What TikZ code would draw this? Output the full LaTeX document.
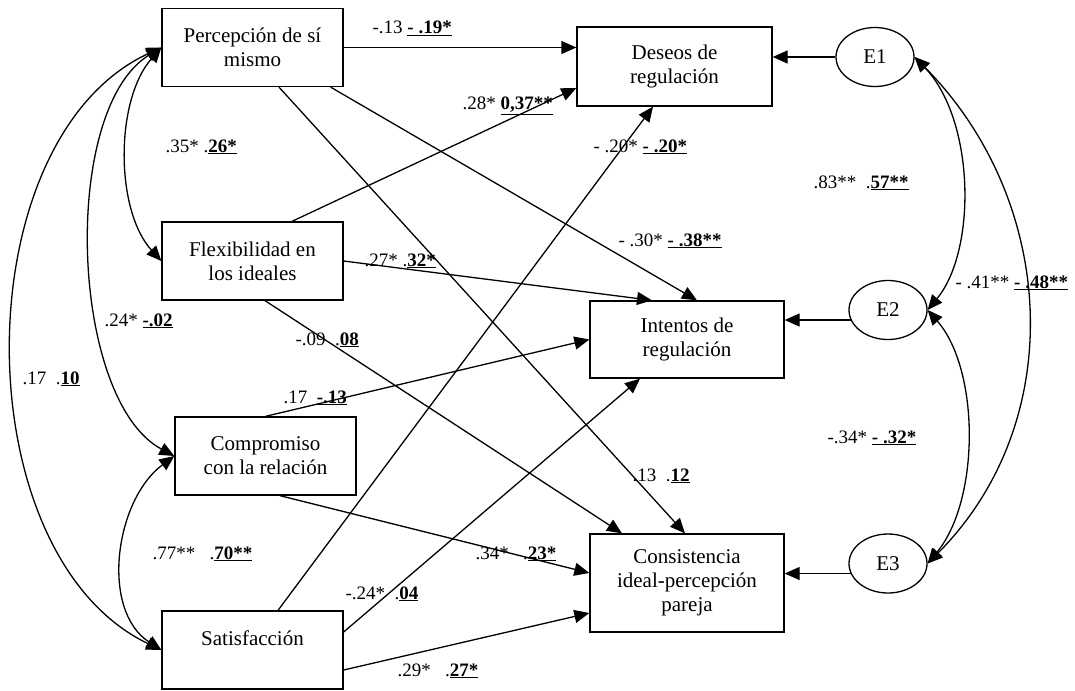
\documentclass[tikz,border=0pt]{standalone}
\usepackage{fontspec}
\setmainfont{Liberation Serif}
\usetikzlibrary{arrows.meta,shapes.geometric}
\newcommand{\bu}[1]{\underline{\textbf{#1}}}

\begin{document}
\begin{tikzpicture}[x=1pt, y=-1pt, >={Triangle[length=15pt,width=13pt]}, line width=1.3pt,
    box/.style={draw, align=center, font=\fontsize{21}{24}\selectfont, minimum width=181pt, minimum height=78pt, inner sep=0pt},
    err/.style={draw, ellipse, font=\fontsize{21}{24}\selectfont, minimum width=78pt, minimum height=59pt, inner sep=0pt},
    coef/.style={anchor=base west, font=\fontsize{19}{20}\selectfont, inner sep=0pt}]
    \useasboundingbox (0,0) rectangle (1075,690);

    % variables
    \node[box] (perc) at (252.5,47.5) {Percepción de sí\\mismo};
    \node[box] (flex) at (252.5,261) {Flexibilidad en\\los ideales};
    \node[box] (comp) at (265.5,456) {Compromiso\\con la relación};
    \node[box] (sat) at (252.5,650) {Satisfacción\\\mbox{}};
    \node[box, minimum width=195pt, minimum height=79pt] (des) at (674.5,66.5) {Deseos de\\regulación};
    \node[box, minimum width=194pt, minimum height=77pt] (int) at (687,339.5) {Intentos de\\regulación};
    \node[box, minimum width=194pt, minimum height=98pt] (cons) at (687,583) {Consistencia\\ideal-percepción\\pareja};
    \foreach \n/\x/\y in {1/875/57, 2/888/310, 3/888/563.5}
    {
        \node[err] (e\n) at (\x,\y) {E\n};
    }

    % paths
    \draw[->] (perc.east) -- (perc.east -| des.west);
    \draw[->] ([xshift=-13pt]perc.south east) -- ([xshift=10pt]int.north);
    \draw[->] ([xshift=26.5pt]perc.south) -- ([xshift=-2pt]cons.north);
    \draw[->] ([xshift=39.5pt]flex.north) -- ([yshift=-21.5pt]des.west);
    \draw[->] (flex.east) -- ([xshift=-35pt]int.north);
    \draw[->] ([xshift=12.5pt]flex.south) -- ([xshift=-65pt]cons.north);
    \draw[->] (comp.north) -- (int.west);
    \draw[->] ([xshift=14.5pt]comp.south) -- ([yshift=10pt]cons.west);
    \draw[->] ([xshift=25.5pt]sat.north) -- ([xshift=-21.5pt]des.south);
    \draw[->] ([yshift=18pt]sat.east) -- ([xshift=-47pt]int.south);
    \draw[->] ([yshift=-20pt]sat.east) -- ([yshift=-30pt]cons.west);

    \draw[->] (e1) -- (e1 -| des.east);
    \draw[->] (e2.195) -- (e2.195 -| int.east);
    \draw[->] (e3.195) -- (e3.195 -| cons.east);

    % covariances
    \draw[<->] (perc.west) .. controls (115,100) and (115,210) .. (flex.west);
    \draw[<->] (perc.west) .. controls (60,110) and (70,400) .. (comp.west);
    \draw[<->] (perc.west) .. controls (-37,140) and (-37,555) .. (sat.west);
    \draw[<->] (comp.west) .. controls (115,500) and (100,610) .. (sat.west);
    \draw[<->] (e1.east) .. controls (975,120) and (977,250) .. (e2.east);
    \draw[<->] (e1.east) .. controls (1056,200) and (1070,420) .. (e3.east);
    \draw[<->] (e2.east) .. controls (980,370) and (980,500) .. (e3.east);

    % coefficients
    \node[coef] (k1) at (372,34) {-.13 \bu{- .19*}};
    \node[coef] (k2) at (462,110) {.28* \bu{0,37**}};
    \node[coef] (k3) at (593,152) {- .20* \bu{- .20*}};
    \node[coef] (k4) at (165,152) {.35* .\bu{26*}};
    \node[coef] (k5) at (813,188) {.83**\ \ .\bu{57**}};
    \node[coef] (k6) at (618,246) {- .30* \bu{- .38**}};
    \node[coef] (k7) at (364,266) {.27* .\bu{32*}};
    \node[coef] (k8) at (295,345) {-.09\ \ .\bu{08}};
    \node[coef] (k9) at (104,326) {.24* \bu{-.02}};
    \node[coef] (k10) at (22,384) {.17\ \ .\bu{10}};
    \node[coef] (k11) at (283,403) {.17\ \ \bu{-.13}};
    \node[coef] (k12) at (632,481) {.13\ \ .\bu{12}};
    \node[coef] (k13) at (152,559) {.77**\ \ \ .\bu{70**}};
    \node[coef] (k14) at (475,559) {.34*\ \ \ .\bu{23*}};
    \node[coef] (k15) at (345,599) {-.24*\ \ .\bu{04}};
    \node[coef] (k16) at (397,676) {.29*\ \ \ .\bu{27*}};
    \node[coef] (k17) at (955,288) {- .41** \bu{- .48**}};
    \node[coef] (k18) at (827,443) {-.34* \bu{- .32*}};
\end{tikzpicture}
\end{document}
